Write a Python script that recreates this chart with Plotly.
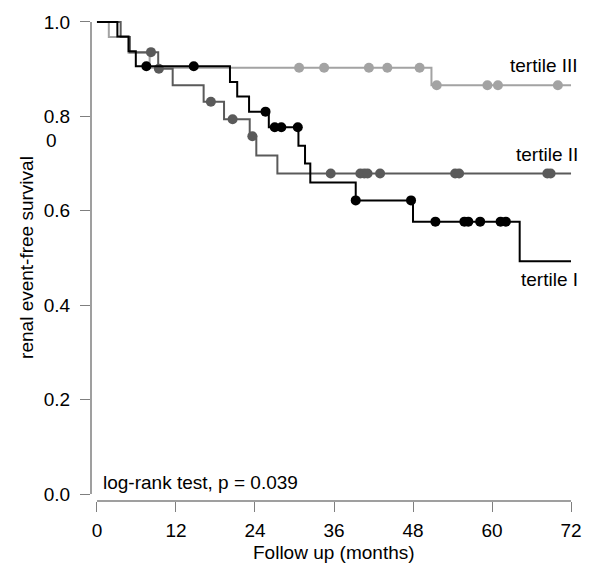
import plotly.graph_objects as go
import numpy as np

# ---- data ----
# tertile I (black)
t1_times = [0, 3.1, 4.8, 5.9, 20.2, 21.3, 23.1, 26.1, 30.6, 31.6, 32.4, 39.3, 48.0, 64.2, 72]
t1_surv = [1.0, 0.969, 0.938, 0.906, 0.873, 0.842, 0.810, 0.777, 0.738, 0.700, 0.660, 0.622, 0.577, 0.493, 0.493]
t1_cens = [7.5, 14.7, 25.6, 27.0, 28.0, 30.5, 39.3, 47.7, 51.4, 55.8, 56.4, 58.2, 61.3, 62.1]

# tertile II (dark gray)
t2_times = [0, 3.6, 5.0, 9.3, 11.5, 16.2, 19.3, 23.2, 24.2, 27.4, 72]
t2_surv = [1.0, 0.968, 0.936, 0.901, 0.866, 0.831, 0.794, 0.758, 0.717, 0.679, 0.679]
t2_cens = [8.2, 9.4, 17.3, 20.6, 23.6, 35.5, 40.0, 40.6, 41.1, 43.0, 54.4, 55.0, 68.4, 68.9]

# tertile III (light gray)
t3_times = [0, 1.8, 4.8, 8.0, 50.8, 72]
t3_surv = [1.0, 0.968, 0.935, 0.903, 0.866, 0.866]
t3_cens = [30.7, 34.5, 41.3, 44.1, 49.0, 51.6, 59.3, 60.9, 70.0]

x_ticks = [0, 12, 24, 36, 48, 60, 72]
y_ticks = [0.0, 0.2, 0.4, 0.6, 0.8, 1.0]
y_ticktext = ["0.0", "0.2", "0.4", "0.6", "0.8", "1.0"]

labels = ["tertile I", "tertile II", "tertile III"]
pvalue_text = "log-rank test, p = 0.039"

# ---- styling ----
FONT = "Liberation Sans, Arial, sans-serif"
FS = 19
colors = ["#000000", "#5a5a5a", "#a3a3a3"]
AXC = "#7f7f7f"


def surv_at(times, surv, t):
    idx = np.searchsorted(np.array(times), t, side="right") - 1
    return surv[max(idx, 0)]


fig = go.Figure()
series = [(t3_times, t3_surv, t3_cens), (t2_times, t2_surv, t2_cens), (t1_times, t1_surv, t1_cens)]
cols = [colors[2], colors[1], colors[0]]
for (tt, ss, cc), col in zip(series, cols):
    fig.add_trace(go.Scatter(x=tt, y=ss, mode="lines", line=dict(color=col, width=2, shape="hv"),
                             hoverinfo="skip", showlegend=False))
    fig.add_trace(go.Scatter(x=cc, y=[surv_at(tt, ss, c) for c in cc], mode="markers",
                             marker=dict(color=col, size=10, line=dict(width=0)),
                             showlegend=False))

W, H = 594, 572
L, R, T, B = 91, 14, 12, 71
pw, ph = W - L - R, H - T - B


def px2paper(px, py):
    return (px - L) / pw, (H - B - py) / ph


fig.update_layout(
    width=W, height=H,
    margin=dict(l=L, r=R, t=T, b=B),
    paper_bgcolor="white", plot_bgcolor="white",
    font=dict(family=FONT, size=FS, color="black"),
    xaxis=dict(range=[-0.906, 72.906], tickvals=x_ticks, ticks="outside", ticklen=10,
               tickcolor=AXC, tickwidth=1.2, showgrid=False, zeroline=False, showline=False,
               tickfont=dict(size=FS), ticklabelstandoff=2),
    yaxis=dict(range=[-0.0147, 1.0147], tickvals=y_ticks, ticktext=y_ticktext, ticks="outside",
               ticklen=10, tickcolor=AXC, tickwidth=1.2, showgrid=False, zeroline=False,
               showline=False, tickfont=dict(size=FS), ticklabelstandoff=6),
)

# R-style axis lines spanning only the tick range
fig.add_shape(type="line", xref="x", yref="paper", x0=x_ticks[0], x1=x_ticks[-1], y0=0, y1=0,
              line=dict(color=AXC, width=1.5))
fig.add_shape(type="line", xref="paper", yref="y", x0=0, x1=0, y0=y_ticks[0], y1=y_ticks[-1],
              line=dict(color=AXC, width=1.5))

ann = []
for text, (px, py) in zip(labels[::-1], [(583, 63), (583, 152), (583, 278)]):
    ax, ay = px2paper(px, py)
    ann.append(dict(x=ax, y=ay, xref="paper", yref="paper", text=text, showarrow=False,
                    xanchor="right", yanchor="middle", font=dict(size=FS, color="black")))
ax, ay = px2paper(101, 482)
ann.append(dict(x=ax, y=ay, xref="paper", yref="paper", text=pvalue_text, showarrow=False,
                xanchor="left", yanchor="middle", font=dict(size=FS, color="black")))
ax, ay = px2paper(44, 138)
ann.append(dict(x=ax, y=ay, xref="paper", yref="paper", text="0", showarrow=False,
                xanchor="left", yanchor="middle", font=dict(size=FS, color="black")))
ax, ay = px2paper(335, 553)
ann.append(dict(x=ax, y=ay, xref="paper", yref="paper", text="Follow up (months)", showarrow=False,
                xanchor="center", yanchor="middle", font=dict(size=FS, color="black")))
ax, ay = px2paper(26, 256)
ann.append(dict(x=ax, y=ay, xref="paper", yref="paper", text="renal event-free survival",
                showarrow=False, textangle=-90, xanchor="center", yanchor="middle",
                font=dict(size=FS, color="black")))
fig.update_layout(annotations=ann)

fig.write_html("out.html", config={"displayModeBar": False},
               post_script="document.body.style.margin='0';document.body.style.overflow='hidden';")
